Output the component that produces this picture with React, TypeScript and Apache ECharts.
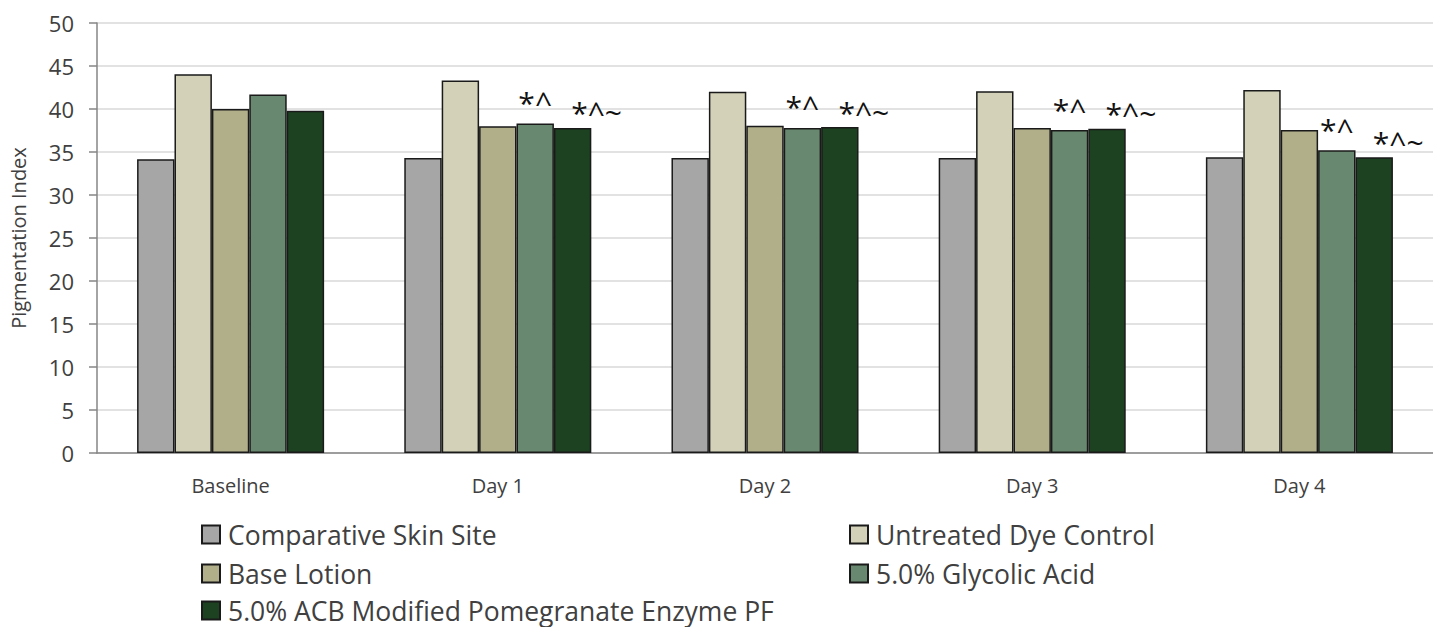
import React, { useEffect, useRef } from "react";
import * as echarts from "echarts";

const categories = ["Baseline", "Day 1", "Day 2", "Day 3", "Day 4"];
const seriesNames = [
  "Comparative Skin Site",
  "Untreated Dye Control",
  "Base Lotion",
  "5.0% Glycolic Acid",
  "5.0% ACB Modified Pomegranate Enzyme PF",
];
const comparative = [34.15, 34.3, 34.3, 34.3, 34.4];
const untreated = [44.05, 43.3, 42.0, 42.05, 42.2];
const baseLotion = [40.0, 38.0, 38.05, 37.8, 37.55];
const glycolic = [41.7, 38.3, 37.8, 37.55, 35.2];
const acb = [39.8, 37.8, 37.9, 37.7, 34.4];
const glycolicMarks = ["", "*^", "*^", "*^", "*^"];
const acbMarks = ["", "*^~", "*^~", "*^~", "*^~"];
const yTicks = [0, 5, 10, 15, 20, 25, 30, 35, 40, 45, 50];

const colors = ["#a6a6a6", "#d3d2b9", "#b1ae8a", "#68896f", "#1d4221"];
const FONT = "'Open Sans', sans-serif";
// legend placement: [series index, left, top]
const legendSlots: [number, number, number][] = [
  [0, 196, 516],
  [1, 844, 516],
  [2, 196, 555],
  [3, 844, 555],
  [4, 196, 592],
];

export default function App() {
  const ref = useRef<HTMLDivElement>(null);
  useEffect(() => {
    document.body.style.margin = "0";
    const chart = echarts.init(ref.current!, null, { renderer: "svg" });
    const values = [comparative, untreated, baseLotion, glycolic, acb];
    const marks: (string[] | null)[] = [null, null, null, glycolicMarks, acbMarks];
    const series = values.map((vals, i) => {
      const m = marks[i];
      return {
        name: seriesNames[i],
        type: "bar",
        data: vals,
        barGap: "0%",
        barCategoryGap: "30%",
        itemStyle: { color: colors[i], borderColor: "#1a1a1a", borderWidth: 1.5 },
        label: m
          ? {
              show: true,
              position: "top",
              distance: i === 4 ? 0 : 6,
              offset: i === 4 ? [24, 0] : [0, 0],
              formatter: (p: any) => m[p.dataIndex],
              fontFamily: FONT,
              fontSize: 30,
              color: "#111",
            }
          : { show: false },
      };
    });
    const legend = legendSlots.map(([idx, left, top]) => ({
      left,
      top,
      itemWidth: 18,
      itemHeight: 18,
      icon: "rect",
      data: [seriesNames[idx]],
      textStyle: { fontSize: 26.5, color: "#404040", fontFamily: FONT, padding: [0, 0, 0, 3] },
    }));
    chart.setOption({
      animation: false,
      textStyle: { fontFamily: FONT },
      grid: { left: 96, right: -7, top: 23, bottom: 174, containLabel: false },
      legend,
      xAxis: {
        type: "category",
        data: categories,
        axisLine: { lineStyle: { color: "#868686", width: 1.5 } },
        axisTick: { show: false },
        axisLabel: { color: "#404040", fontSize: 20, margin: 22, fontFamily: FONT },
      },
      yAxis: {
        type: "value",
        min: yTicks[0],
        max: yTicks[yTicks.length - 1],
        interval: 5,
        name: "Pigmentation Index",
        nameLocation: "middle",
        nameGap: 69,
        nameTextStyle: { fontSize: 20, color: "#404040", fontFamily: FONT },
        axisLine: { show: true, lineStyle: { color: "#868686", width: 1.5 } },
        axisTick: { show: true, length: 8, lineStyle: { color: "#868686", width: 1.5 } },
        axisLabel: { color: "#404040", fontSize: 22, margin: 23, fontFamily: FONT },
        splitLine: { lineStyle: { color: "#d9d9d9", width: 1.5 } },
      },
      series,
    });
    return () => chart.dispose();
  }, []);
  return <div ref={ref} style={{ width: 1433, height: 627 }} />;
}
